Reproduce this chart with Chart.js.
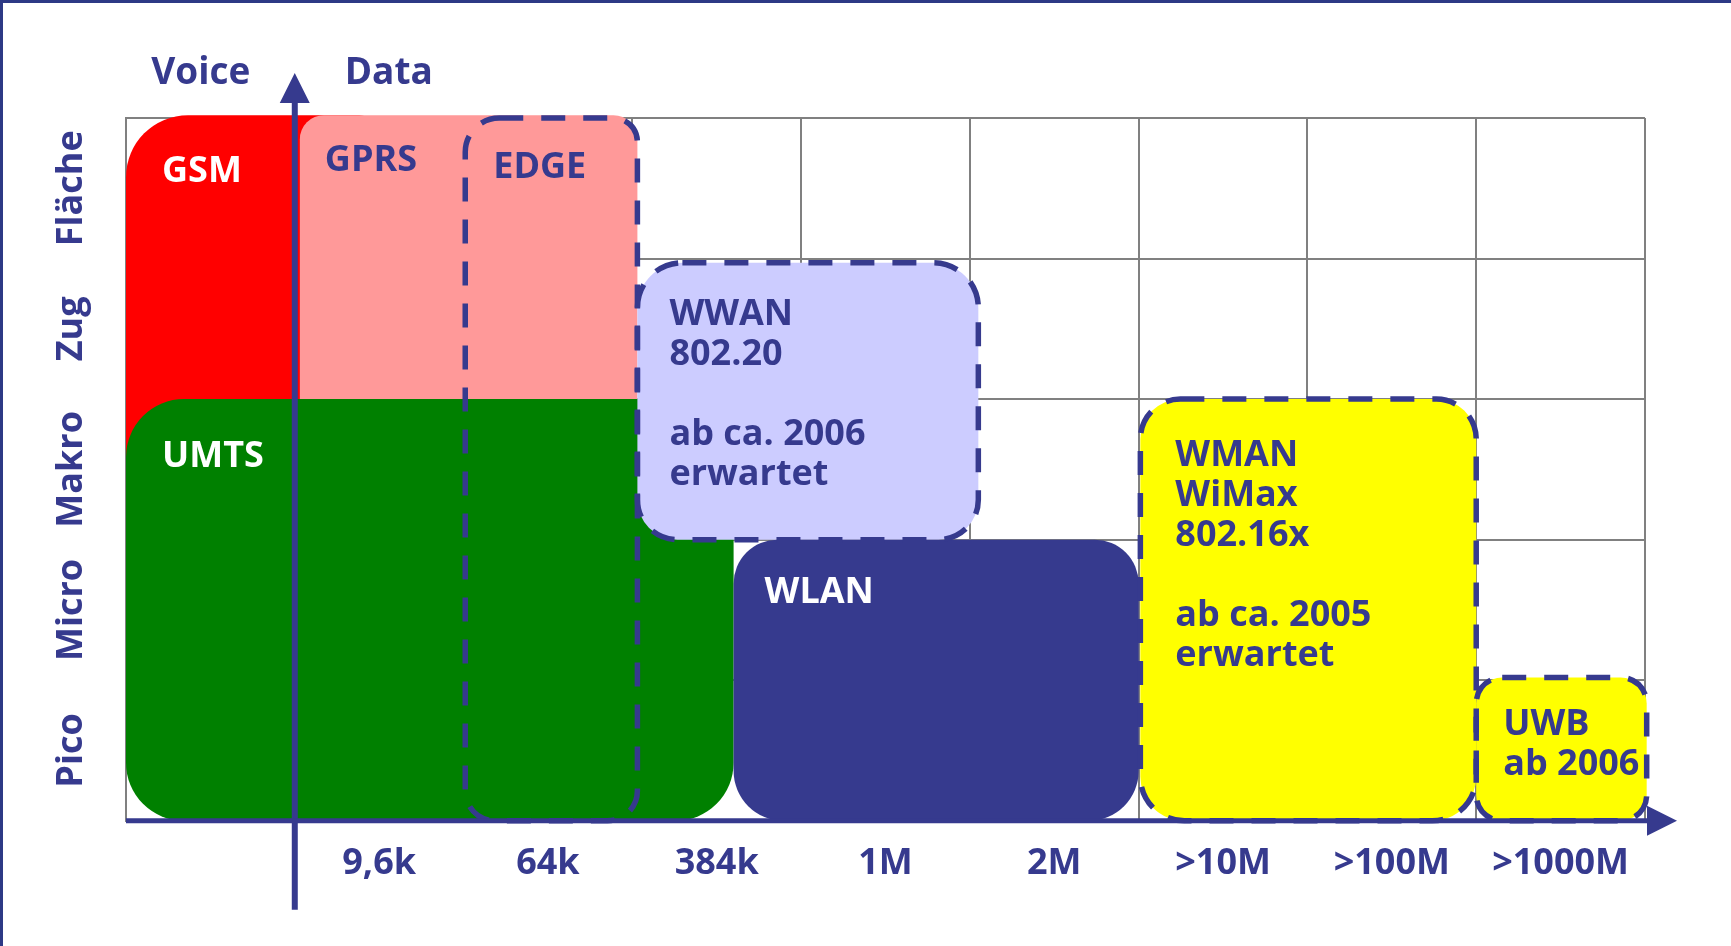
<!DOCTYPE html>
<html>
<head>
<meta charset="utf-8">
<script src="https://cdn.jsdelivr.net/npm/chart.js@4/dist/chart.umd.min.js"></script>
<style>
  html, body { margin: 0; padding: 0; background: #ffffff; }
  #wrap { width: 1731px; height: 946px; position: relative; }
</style>
</head>
<body>
<div id="wrap"><canvas id="c" width="1731" height="946"></canvas></div>
<script>
// ---------- data ----------
const xLabels = ['', '9,6k', '64k', '384k', '1M', '2M', '>10M', '>100M', '>1000M'];
const rowLabels = ['Pico', 'Micro', 'Makro', 'Zug', 'Fläche'];
const axisLabels = ['Voice', 'Data'];

// technologies: extents in column units (0..9, left edge of first column = 0)
// and row units (0..5, bottom = 0)
const techNames = ['GSM', 'GPRS', 'UMTS', 'EDGE', 'WWAN', 'WLAN', 'WMAN', 'UWB'];
const techX0 = [0.00, 1.03, 0.00, 2.01, 3.03, 3.60, 6.01, 8.00];
const techX1 = [1.50, 3.03, 3.60, 3.03, 5.05, 6.00, 8.00, 9.01];
const techY0 = [2.00, 2.50, 0.00, 0.00, 2.00, 0.00, 0.00, 0.00];
const techY1 = [5.02, 5.02, 3.00, 5.00, 3.97, 2.00, 3.00, 1.02];
const techText = [
  ['GSM'],
  ['GPRS'],
  ['UMTS'],
  ['EDGE'],
  ['WWAN', '802.20', '', 'ab ca. 2006', 'erwartet'],
  ['WLAN'],
  ['WMAN', 'WiMax', '802.16x', '', 'ab ca. 2005', 'erwartet'],
  ['UWB', 'ab 2006']
];

// ---------- styles ----------
const NAVY = '#363a8e';
const FRAME = '#2d3985';
const GRID = '#808080';
const FONT = '"Open Sans", "Noto Sans", sans-serif';
const techStyle = {
  GSM:  { fill: '#ff0000', dashed: false, r: [62, 20, 20, 20], text: '#ffffff', dx: 36, dy: 67 },
  GPRS: { fill: '#ff9999', dashed: false, r: [24, 24, 0, 0],   text: NAVY,      dx: 25, dy: 56 },
  UMTS: { fill: '#008000', dashed: false, r: [58, 40, 58, 58], text: '#ffffff', dx: 36, dy: 68 },
  EDGE: { fill: null,      dashed: true,  r: [34, 24, 30, 30], text: NAVY,      dx: 28, dy: 60 },
  WWAN: { fill: '#ccccff', dashed: true,  r: [45, 45, 40, 40], text: NAVY,      dx: 32, dy: 62 },
  WLAN: { fill: NAVY,      dashed: false, r: [44, 44, 50, 50], text: '#ffffff', dx: 31, dy: 63 },
  WMAN: { fill: '#ffff00', dashed: true,  r: [40, 40, 44, 44], text: NAVY,      dx: 35, dy: 67 },
  UWB:  { fill: '#ffff00', dashed: true,  r: [26, 26, 26, 26], text: NAVY,      dx: 27, dy: 58 }
};

function roundRectPath(ctx, x, y, w, h, r) {
  const [tl, tr, br, bl] = r.map(v => Math.max(0, Math.min(v, w / 2, h / 2)));
  ctx.beginPath();
  ctx.moveTo(x + tl, y);
  ctx.lineTo(x + w - tr, y);
  ctx.arcTo(x + w, y, x + w, y + tr, tr);
  ctx.lineTo(x + w, y + h - br);
  ctx.arcTo(x + w, y + h, x + w - br, y + h, br);
  ctx.lineTo(x + bl, y + h);
  ctx.arcTo(x, y + h, x, y + h - bl, bl);
  ctx.lineTo(x, y + tl);
  ctx.arcTo(x, y, x + tl, y, tl);
  ctx.closePath();
}

const framePlugin = {
  id: 'frame',
  beforeDraw(chart) {
    const ctx = chart.ctx;
    ctx.save();
    ctx.fillStyle = '#ffffff';
    ctx.fillRect(0, 0, chart.width, chart.height);
    ctx.fillStyle = FRAME;
    ctx.fillRect(0, 0, chart.width, 3);
    ctx.fillRect(0, 0, 3, chart.height);
    ctx.restore();
  }
};

const techPlugin = {
  id: 'tech',
  afterDraw(chart) {
    const ctx = chart.ctx;
    const xs = chart.scales.x, ys = chart.scales.y;
    const area = chart.chartArea;
    const px = v => xs.getPixelForValue(v - 0.5);
    const py = v => ys.getPixelForValue(v);
    ctx.save();

    const boxes = techNames.map((n, i) => {
      const x0 = px(techX0[i]), x1 = px(techX1[i]);
      const yTop = py(techY1[i]), yBot = py(techY0[i]);
      return { n, i, x: x0, y: yTop, w: x1 - x0, h: yBot - yTop, s: techStyle[n] };
    });

    // fills
    boxes.forEach(b => {
      if (!b.s.fill) return;
      roundRectPath(ctx, b.x, b.y, b.w, b.h, b.s.r);
      ctx.fillStyle = b.s.fill;
      ctx.fill();
    });
    // dashed outlines
    ctx.setLineDash([24, 18]);
    ctx.lineWidth = 5.5;
    ctx.strokeStyle = NAVY;
    boxes.forEach(b => {
      if (!b.s.dashed) return;
      roundRectPath(ctx, b.x, b.y, b.w, b.h, b.s.r);
      ctx.stroke();
    });
    ctx.setLineDash([]);

    // box texts
    ctx.font = '700 36px ' + FONT;
    ctx.textAlign = 'left';
    ctx.textBaseline = 'alphabetic';
    boxes.forEach(b => {
      ctx.fillStyle = b.s.text;
      techText[b.i].forEach((line, k) => {
        if (line) ctx.fillText(line, b.x + b.s.dx, b.y + b.s.dy + k * 40);
      });
    });

    // row labels (rotated)
    ctx.font = '700 36px ' + FONT;
    ctx.fillStyle = NAVY;
    ctx.textAlign = 'center';
    ctx.textBaseline = 'middle';
    rowLabels.forEach((lab, i) => {
      const cy = py(i + 0.5);
      ctx.save();
      ctx.translate(area.left - 54, cy);
      ctx.rotate(-Math.PI / 2);
      ctx.fillText(lab, 0, 0);
      ctx.restore();
    });

    // axes arrows
    const ax = px(1), ay = py(0);
    ctx.fillStyle = NAVY;
    ctx.strokeStyle = NAVY;
    // vertical
    ctx.lineWidth = 6;
    ctx.beginPath();
    ctx.moveTo(ax, ay + 89);
    ctx.lineTo(ax, area.top - 16);
    ctx.stroke();
    ctx.beginPath();
    ctx.moveTo(ax, area.top - 45);
    ctx.lineTo(ax - 15, area.top - 15);
    ctx.lineTo(ax + 15, area.top - 15);
    ctx.closePath();
    ctx.fill();
    // horizontal
    ctx.lineWidth = 5;
    ctx.beginPath();
    ctx.moveTo(area.left, ay);
    ctx.lineTo(area.right + 4, ay);
    ctx.stroke();
    ctx.beginPath();
    ctx.moveTo(area.right + 32, ay);
    ctx.lineTo(area.right + 2, ay - 15);
    ctx.lineTo(area.right + 2, ay + 15);
    ctx.closePath();
    ctx.fill();

    // Voice / Data
    ctx.font = '700 37px ' + FONT;
    ctx.textAlign = 'center';
    ctx.textBaseline = 'alphabetic';
    ctx.fillText(axisLabels[0], ax - 94, area.top - 34);
    ctx.fillText(axisLabels[1], ax + 94, area.top - 34);

    ctx.restore();
  }
};

function draw() {
  new Chart(document.getElementById('c'), {
    type: 'bar',
    data: { labels: xLabels, datasets: [] },
    options: {
      responsive: false,
      animation: false,
      devicePixelRatio: 1,
      layout: { padding: { left: 126, top: 118, right: 86, bottom: 40 } },
      plugins: { legend: { display: false }, tooltip: { enabled: false }, title: { display: false } },
      scales: {
        x: {
          type: 'category',
          offset: true,
          grid: { offset: true, color: GRID, lineWidth: 2, drawTicks: false },
          border: { display: true, color: GRID, width: 2 },
          ticks: {
            autoSkip: false, maxRotation: 0, minRotation: 0, padding: 21,
            color: NAVY, font: { family: FONT, size: 36, weight: '700' }
          }
        },
        y: {
          type: 'linear', min: 0, max: 5,
          grid: { color: GRID, lineWidth: 2, drawTicks: false },
          border: { display: true, color: GRID, width: 2 },
          ticks: { display: false, stepSize: 1 }
        }
      }
    },
    plugins: [framePlugin, techPlugin]
  });
}

const fontLoads = [
  document.fonts.load('700 37px "Open Sans"'),
  document.fonts.load('700 36px "Open Sans"')
];
Promise.race([Promise.all(fontLoads), new Promise(r => setTimeout(r, 800))]).then(draw, draw);
</script>
</body>
</html>
